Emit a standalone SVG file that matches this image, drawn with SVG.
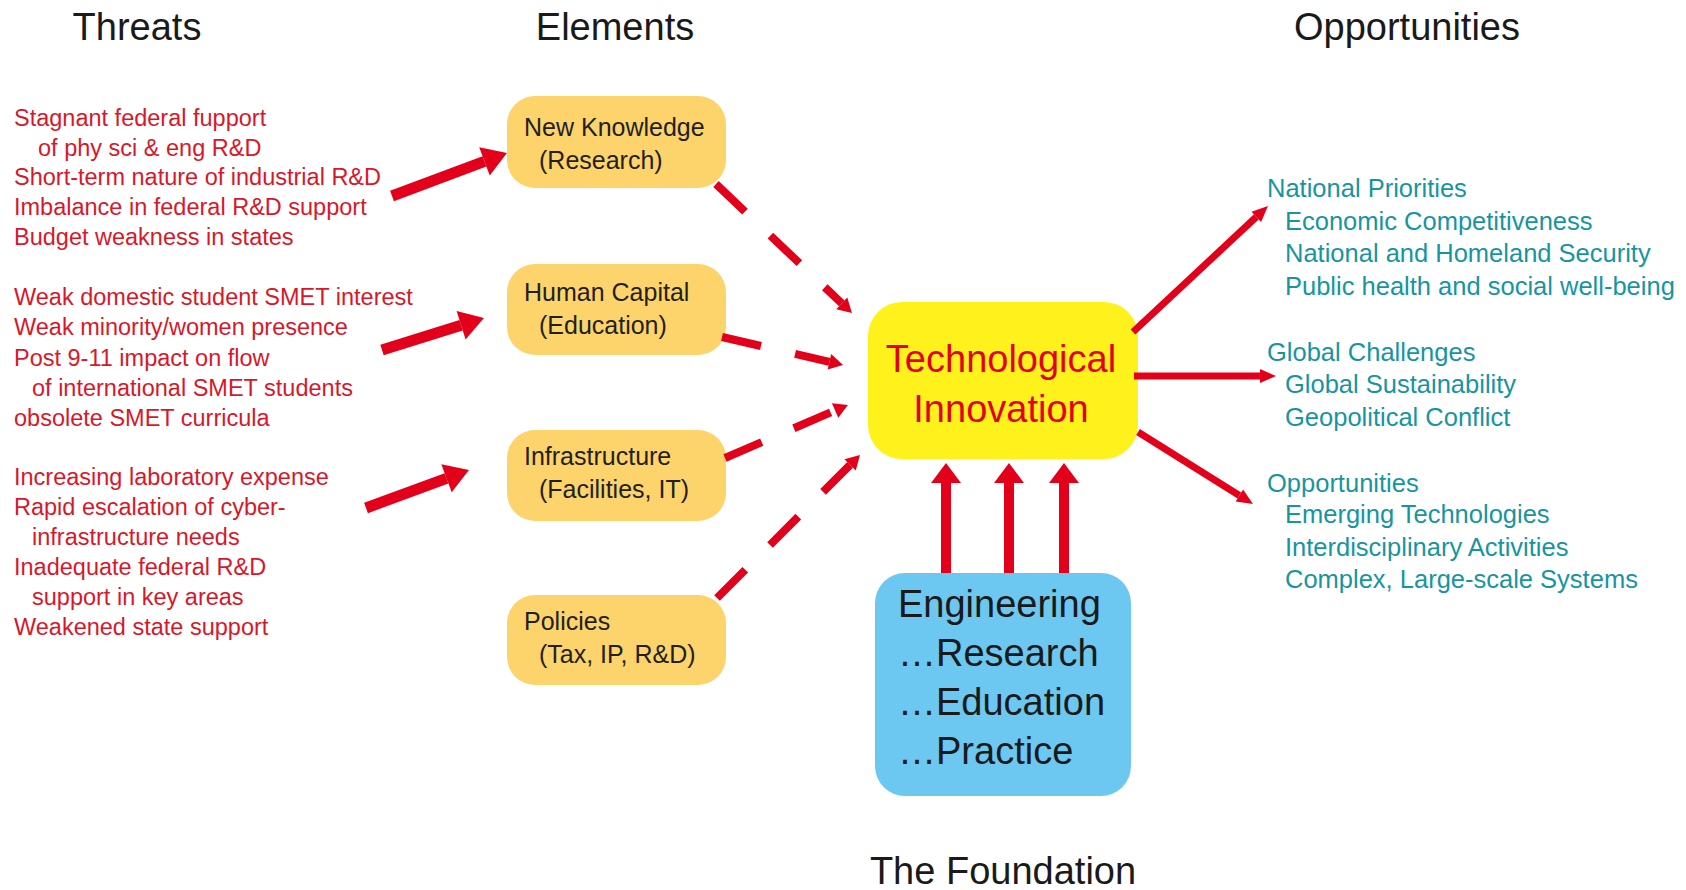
<svg xmlns="http://www.w3.org/2000/svg" width="1686" height="890" viewBox="0 0 1686 890">
<style>
text{font-family:"Liberation Sans",Arial,sans-serif}
.hdr{font-size:38px;fill:#1a1a1a;text-anchor:middle}
.thr{font-size:23.5px;fill:#D7182A}
.opp{font-size:25.5px;fill:#17959F}
.el rect{fill:#FDD36B}
.el text{font-size:25px;fill:#231F20}
.arr{stroke:#E3001B;fill:none}
.thick{stroke-width:11;marker-end:url(#mThick)}
.up{stroke-width:10;marker-end:url(#mUp)}
.out{stroke-width:7;marker-end:url(#mOut)}
.dash{stroke-width:8;stroke-dasharray:40 35;marker-end:url(#mDash)}
</style>
<defs>
<marker id="mThick" markerUnits="userSpaceOnUse" markerWidth="24" markerHeight="30" refX="0" refY="15" orient="auto" overflow="visible"><path d="M0,0 L24,15 L0,30 Z" fill="#E3001B"/></marker>
<marker id="mUp" markerUnits="userSpaceOnUse" markerWidth="20" markerHeight="30" refX="0" refY="15" orient="auto" overflow="visible"><path d="M0,0 L20,15 L0,30 Z" fill="#E3001B"/></marker>
<marker id="mOut" markerUnits="userSpaceOnUse" markerWidth="16" markerHeight="14" refX="0" refY="7" orient="auto" overflow="visible"><path d="M0,0 L16,7 L0,14 Z" fill="#E3001B"/></marker>
<marker id="mDash" markerUnits="userSpaceOnUse" markerWidth="14" markerHeight="16" refX="0" refY="8" orient="auto" overflow="visible"><path d="M0,0 L14,8 L0,16 Z" fill="#E3001B"/></marker>
</defs>
<rect width="1686" height="890" fill="#ffffff"/>

<g id="headers">
<text class="hdr" x="137" y="40">Threats</text>
<text class="hdr" x="615" y="40">Elements</text>
<text class="hdr" x="1407" y="40">Opportunities</text>
<text class="hdr" x="1003" y="884">The Foundation</text>
</g>

<g id="threats-research">
<text class="thr" x="14" y="126">Stagnant federal fupport</text>
<text class="thr" x="38" y="156">of phy sci &amp; eng R&amp;D</text>
<text class="thr" x="14" y="185">Short-term  nature of industrial R&amp;D</text>
<text class="thr" x="14" y="215">Imbalance in federal R&amp;D support</text>
<text class="thr" x="14" y="245">Budget weakness in states</text>
</g>
<g id="threats-education">
<text class="thr" x="14" y="305">Weak domestic student SMET interest</text>
<text class="thr" x="14" y="335">Weak minority/women presence</text>
<text class="thr" x="14" y="366">Post 9-11 impact on flow</text>
<text class="thr" x="32" y="396">of international SMET students</text>
<text class="thr" x="14" y="426">obsolete SMET curricula</text>
</g>
<g id="threats-infrastructure">
<text class="thr" x="14" y="485">Increasing laboratory expense</text>
<text class="thr" x="14" y="515">Rapid escalation of cyber-</text>
<text class="thr" x="32" y="545">infrastructure needs</text>
<text class="thr" x="14" y="575">Inadequate federal R&amp;D</text>
<text class="thr" x="32" y="605">support in key areas</text>
<text class="thr" x="14" y="635">Weakened state support</text>
</g>

<g id="node-new-knowledge" class="el">
<rect x="507" y="96" width="219" height="92" rx="28"/>
<text x="524" y="136">New Knowledge</text>
<text x="539" y="169">(Research)</text>
</g>
<g id="node-human-capital" class="el">
<rect x="507" y="264" width="219" height="91" rx="28"/>
<text x="524" y="301">Human Capital</text>
<text x="539" y="334">(Education)</text>
</g>
<g id="node-infrastructure" class="el">
<rect x="507" y="430" width="219" height="91" rx="28"/>
<text x="524" y="465">Infrastructure</text>
<text x="539" y="498">(Facilities, IT)</text>
</g>
<g id="node-policies" class="el">
<rect x="507" y="595" width="219" height="90" rx="28"/>
<text x="524" y="630">Policies</text>
<text x="539" y="663">(Tax, IP, R&amp;D)</text>
</g>

<g id="node-tech-innovation">
<rect x="868" y="302" width="270" height="157" rx="34" fill="#FFF21C"/>
<text x="1001" y="372" font-size="38" fill="#E3001B" text-anchor="middle">Technological</text>
<text x="1001" y="422" font-size="38" fill="#E3001B" text-anchor="middle">Innovation</text>
</g>

<g id="node-engineering">
<rect x="875" y="573" width="256" height="223" rx="30" fill="#6CC7F1"/>
<text x="898" y="617" font-size="38" fill="#1a1a1a">Engineering</text>
<text x="898" y="666" font-size="38" fill="#1a1a1a">…Research</text>
<text x="898" y="715" font-size="38" fill="#1a1a1a">…Education</text>
<text x="898" y="764" font-size="38" fill="#1a1a1a">…Practice</text>
</g>

<g id="opportunities-national">
<text class="opp" x="1267" y="197">National Priorities</text>
<text class="opp" x="1285" y="230">Economic Competitiveness</text>
<text class="opp" x="1285" y="262">National and Homeland Security</text>
<text class="opp" x="1285" y="295">Public health and social well-being</text>
</g>
<g id="opportunities-global">
<text class="opp" x="1267" y="361">Global Challenges</text>
<text class="opp" x="1285" y="393">Global Sustainability</text>
<text class="opp" x="1285" y="426">Geopolitical Conflict</text>
</g>
<g id="opportunities-emerging">
<text class="opp" x="1267" y="492">Opportunities</text>
<text class="opp" x="1285" y="523">Emerging Technologies</text>
<text class="opp" x="1285" y="556">Interdisciplinary Activities</text>
<text class="opp" x="1285" y="588">Complex, Large-scale Systems</text>
</g>

<g id="connectors" class="arr">
<line class="thick" x1="392" y1="196" x2="484.5" y2="161.4"/>
<line class="thick" x1="382" y1="350" x2="461.1" y2="325.2"/>
<line class="thick" x1="366" y1="508" x2="446.5" y2="478.3"/>
<line class="dash" x1="716" y1="184" x2="841.8" y2="303.4"/>
<line class="dash" x1="722" y1="337" x2="829.4" y2="361.8"/>
<line class="dash" x1="725" y1="458" x2="835.1" y2="410.5"/>
<line class="dash" x1="717" y1="598" x2="850.1" y2="464.9"/>
<line class="up" x1="946" y1="573" x2="946" y2="483"/>
<line class="up" x1="1009" y1="573" x2="1009" y2="483"/>
<line class="up" x1="1064" y1="573" x2="1064" y2="483"/>
<line class="out" x1="1133" y1="332" x2="1256.3" y2="216.9"/>
<line class="out" x1="1134" y1="376" x2="1260" y2="376"/>
<line class="out" x1="1138" y1="432" x2="1239.4" y2="495.5"/>
</g>
</svg>
